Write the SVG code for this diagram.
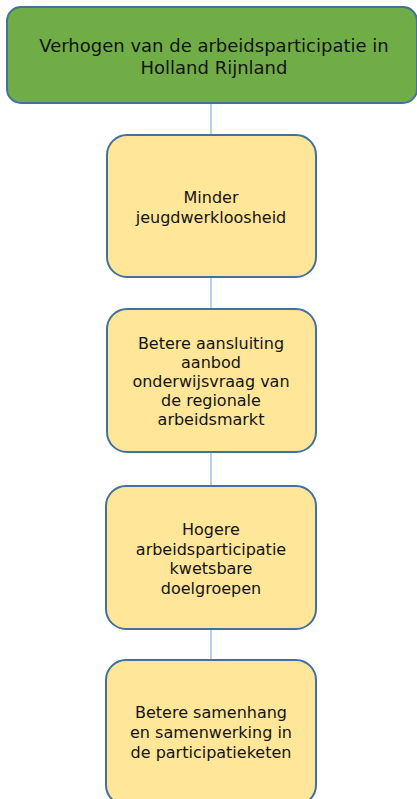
<svg xmlns="http://www.w3.org/2000/svg" width="417" height="799" viewBox="0 0 417 799">
<style>
.node rect{stroke:#41719C;stroke-width:2}
.top rect{fill:#70AD47}
.sub rect{fill:#FFE699}
text{font-family:"DejaVu Sans",Verdana,sans-serif;fill:#141414;text-anchor:middle}
.top text{font-size:18px}
.sub text{font-size:16px}
.conn line{stroke:#9DC3E6;stroke-width:1.5}
</style>
<rect width="417" height="799" fill="#ffffff"/>
<g class="conn">
<line x1="211" y1="103" x2="211" y2="135"/>
<line x1="211" y1="277" x2="211" y2="309"/>
<line x1="211" y1="452" x2="211" y2="486"/>
<line x1="211" y1="629" x2="211" y2="660"/>
</g>
<g id="n0" class="node top">
<rect x="7" y="7" width="410" height="96" rx="14"/>
<text x="214" y="52">Verhogen van de arbeidsparticipatie in</text>
<text x="214" y="74">Holland Rijnland</text>
</g>
<g id="n1" class="node sub">
<rect x="107" y="135" width="209" height="142" rx="20"/>
<text x="211" y="203">Minder</text>
<text x="211" y="223">jeugdwerkloosheid</text>
</g>
<g id="n2" class="node sub">
<rect x="107" y="309" width="209" height="143" rx="20"/>
<text x="211" y="349">Betere aansluiting</text>
<text x="211" y="368">aanbod</text>
<text x="211" y="387">onderwijsvraag van</text>
<text x="211" y="406">de regionale</text>
<text x="211" y="425">arbeidsmarkt</text>
</g>
<g id="n3" class="node sub">
<rect x="106" y="486" width="210" height="143" rx="20"/>
<text x="211" y="535">Hogere</text>
<text x="211" y="555">arbeidsparticipatie</text>
<text x="211" y="574">kwetsbare</text>
<text x="211" y="594">doelgroepen</text>
</g>
<g id="n4" class="node sub">
<rect x="106" y="660" width="210" height="145" rx="20"/>
<text x="211" y="718">Betere samenhang</text>
<text x="211" y="738">en samenwerking in</text>
<text x="211" y="758">de participatieketen</text>
</g>
</svg>
